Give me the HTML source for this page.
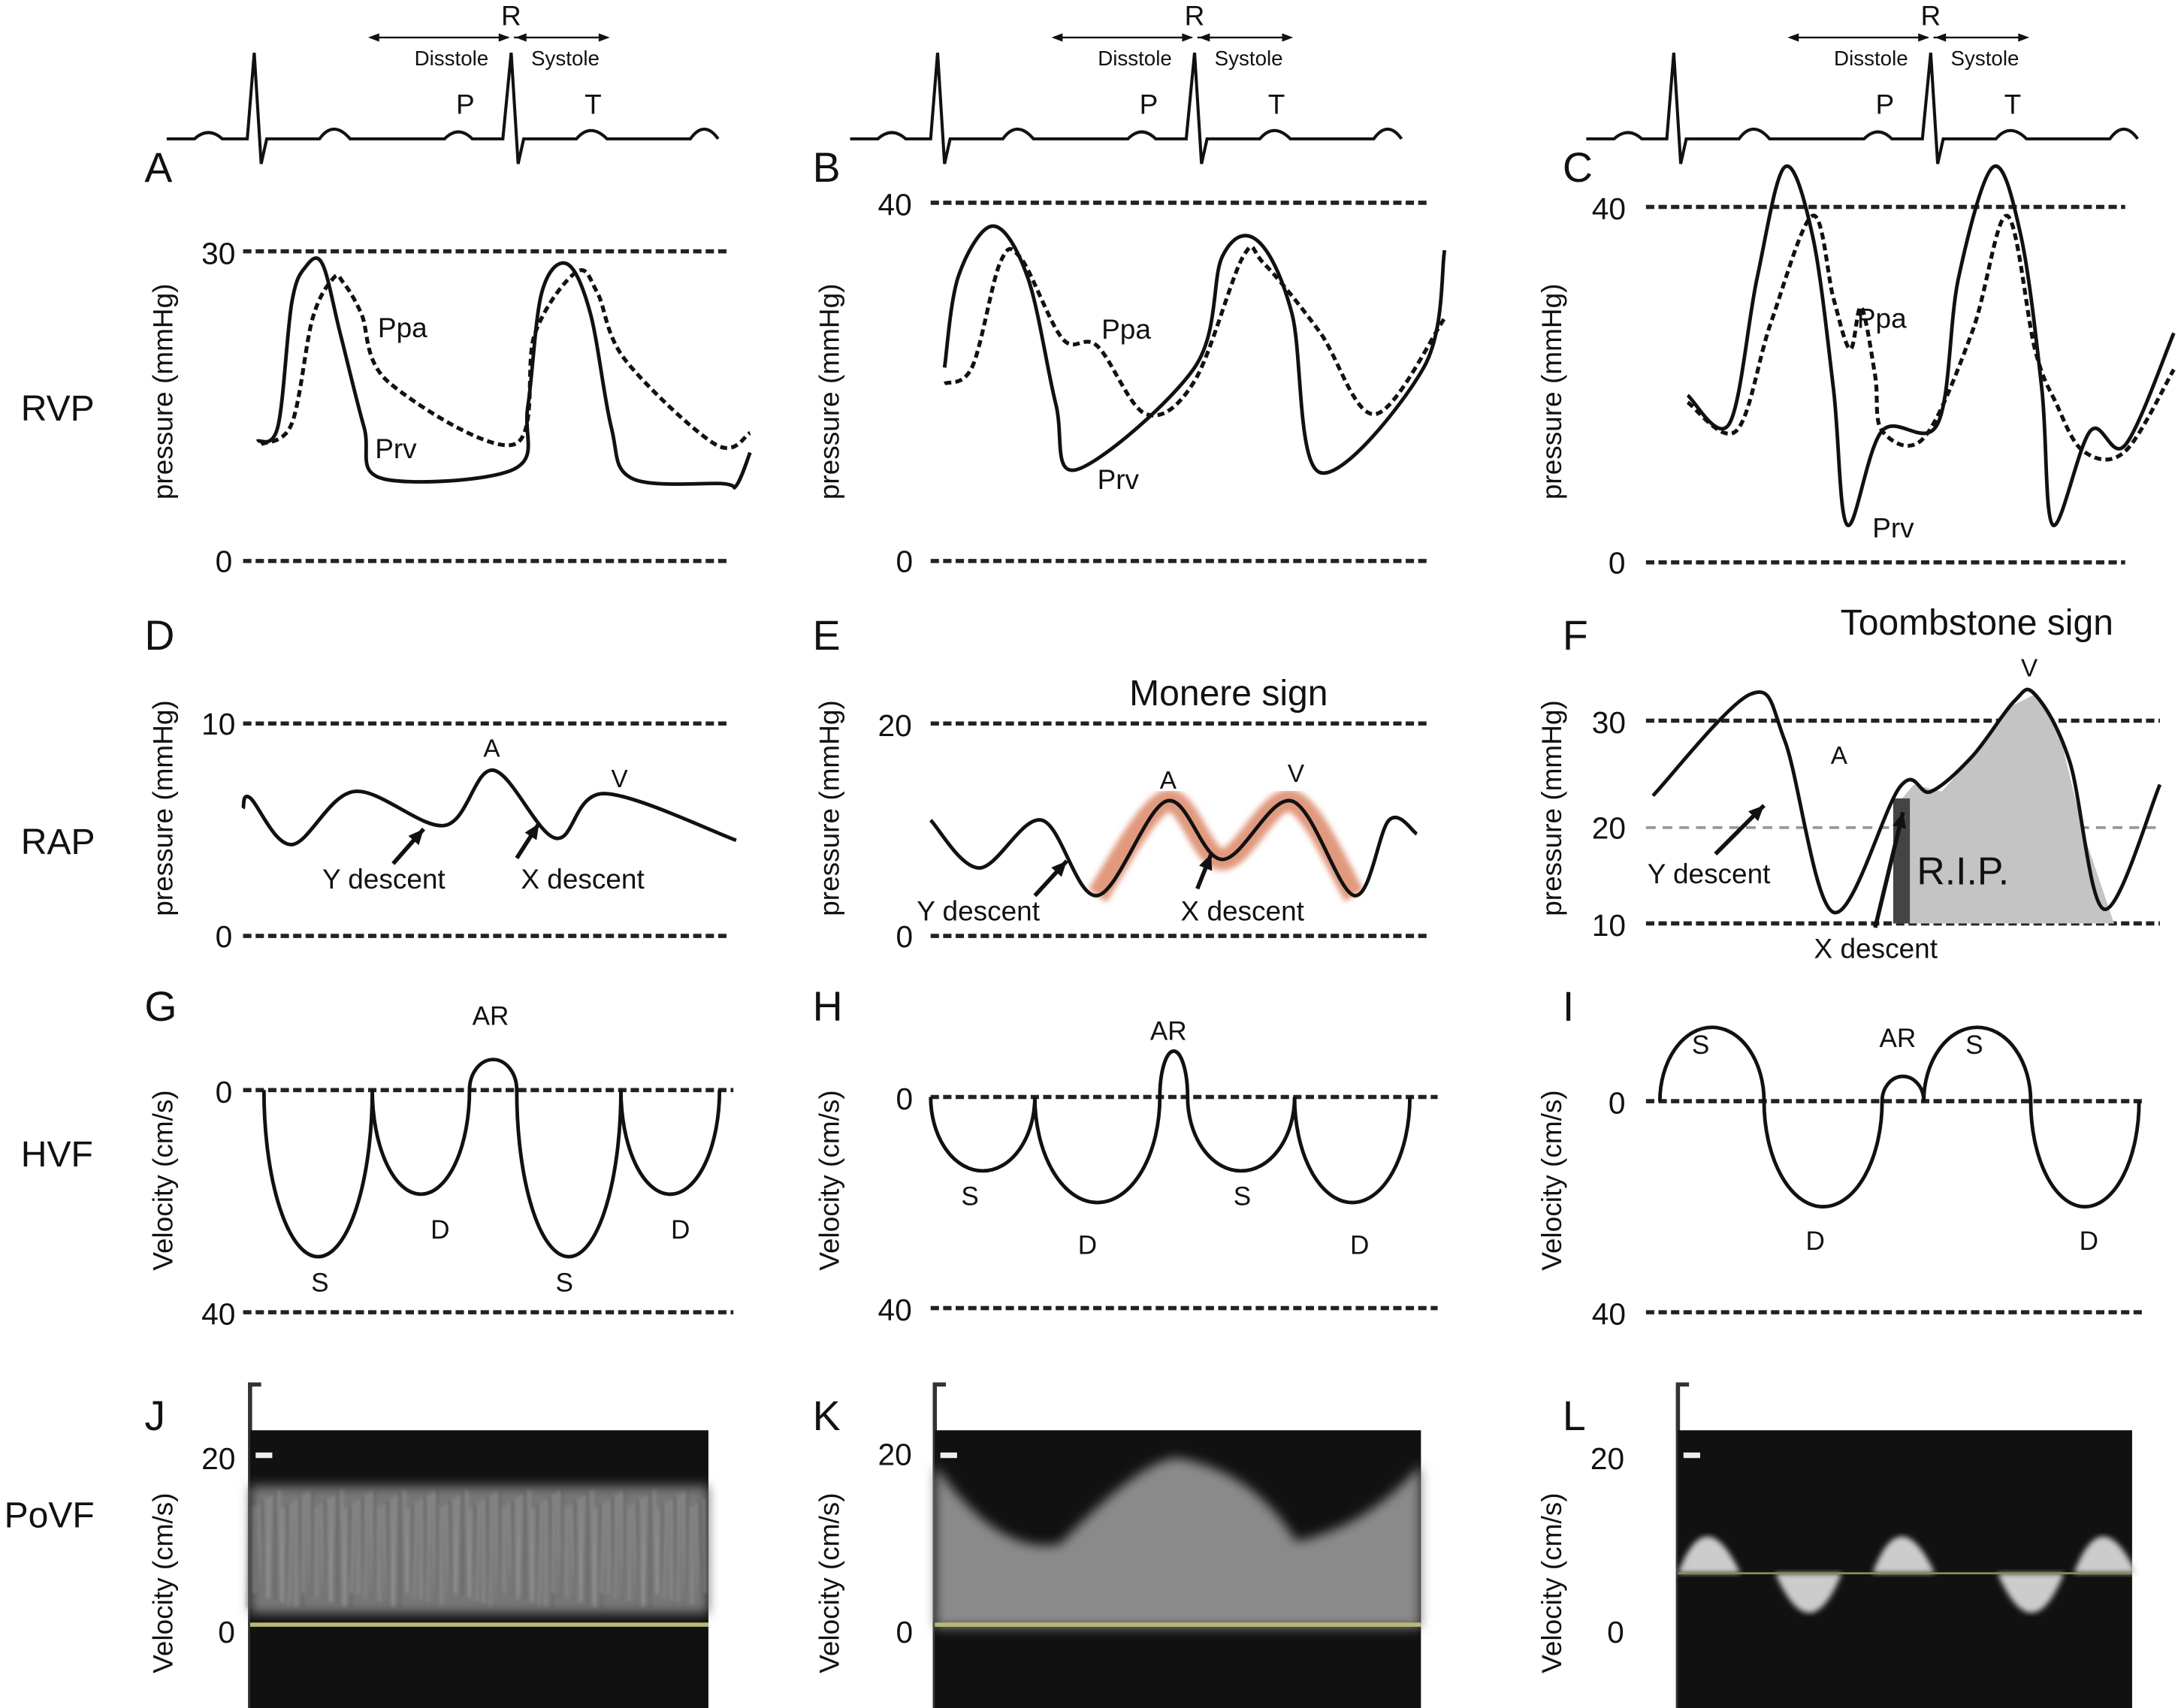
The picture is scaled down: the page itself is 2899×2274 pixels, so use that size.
<!DOCTYPE html>
<html><head><meta charset="utf-8"><style>
html,body{margin:0;padding:0;background:#fff}
svg{display:block}
text{font-family:"Liberation Sans",sans-serif;fill:#111}
</style></head><body>
<svg id="fig" width="2899" height="2274" viewBox="0 0 1568 1230" xmlns="http://www.w3.org/2000/svg">
<defs>
<filter id="blur1"><feGaussianBlur stdDeviation="1.2"/></filter>
<filter id="blur2"><feGaussianBlur stdDeviation="2"/></filter>
<filter id="blur4"><feGaussianBlur stdDeviation="4"/></filter>
</defs>
<g id="root"></g>
</svg>
<script>
// ===== DATA =====
// RVP panels: [time, mmHg]
const prvA=[[10,11.6],[25,13],[35,25],[45,28.5],[57,28.8],[70,22],[87,13],[100,8],[195,8.9],[205,15],[215,26],[233,28.8],[250,24],[265,13],[280,8],[345,7.5],[355,7.3],[365,10.5]];
const ppaA=[[13,11.3],[35,13.3],[50,23.5],[65,27.4],[72,27],[85,24],[105,17.3],[195,11.3],[210,22],[240,28],[255,26],[275,19.5],[340,11.3],[365,12.4]];
const prvB=[[10,21.6],[20,31.8],[45,37.4],[70,31.6],[90,17.6],[105,10.2],[190,21.6],[210,34],[235,35.8],[260,27.7],[280,9.9],[355,21.6],[370,34.7]];
const ppaB=[[10,19.8],[30,21.7],[50,33.3],[65,33.8],[95,24.8],[120,24],[155,16.4],[190,20.1],[225,34],[240,33.2],[280,25.6],[320,16.4],[370,27.1]];
const prvC=[[55,18.8],[85,15.6],[105,32],[125,44.5],[145,36.7],[160,19.5],[170,4.2],[195,14.8],[235,15.6],[250,32],[275,44.5],[295,36.7],[310,19.5],[318,4.2],[345,14.8],[370,13.2],[405,25.8]];
const ppaC=[[55,18],[90,14.8],[115,27],[145,39],[160,29.7],[172,24],[180,28.7],[190,21],[195,14.8],[225,14],[260,26],[285,39],[305,24],[320,18],[340,12.5],[370,12.5],[405,21.7]];
// RAP panels: [time, mmHg]
const rapD=[[0,6],[5,6.5],[35,4.3],[80,6.8],[145,5.2],[180,7.8],[225,4.6],[260,6.7],[355,4.5]];
const rapE=[[0,10.9],[35,6.4],[80,10.9],[120,3.8],[170,12.7],[210,7.2],[260,12.7],[305,3.8],[330,10.9],[350,9.6]];
const rapF=[[0,22.6],[70,32.6],[95,28],[130,11.1],[178,23.5],[200,23],[230,26.5],[260,31.9],[275,32.6],[300,26],[325,11.4],[365,23.7]];
// HVF lobes: [start, end, depth cm/s] (negative = above baseline)
const hvfG=[[15,93,30],[93,163,18.75],[163,197,-5.5],[197,272,30],[272,343,18.75]];
const hvfH=[[0,75,14],[75,165,20],[165,185,-8.7],[185,262,14],[262,345,20]];
const hvfI=[[35,110,-14],[110,195,20],[195,225,-4.7],[225,302,-14],[302,380,20]];

// ===== helpers =====
const NS='http://www.w3.org/2000/svg';
const root=document.getElementById('root');
function mk(tag,attrs,parent){const e=document.createElementNS(NS,tag);for(const k in attrs)e.setAttribute(k,attrs[k]);(parent||root).appendChild(e);return e;}
function txt(x,y,s,size,name,extra){const t=mk('text',Object.assign({x:x,y:y,'font-size':size},extra||{}));t.textContent=s;


return t;}
function smooth(pts){let d='M'+pts[0][0]+','+pts[0][1];for(let i=0;i<pts.length-1;i++){const p0=pts[Math.max(0,i-1)],p1=pts[i],p2=pts[i+1],p3=pts[Math.min(pts.length-1,i+2)];
const c1=[p1[0]+(p2[0]-p0[0])/6,p1[1]+(p2[1]-p0[1])/6],c2=[p2[0]-(p3[0]-p1[0])/6,p2[1]-(p3[1]-p1[1])/6];d+=' C'+c1[0]+','+c1[1]+' '+c2[0]+','+c2[1]+' '+p2[0]+','+p2[1];}return d;}
function axis(x0,v0,y0,v1,y1){return {x:t=>x0+t,y:v=>y0+(v-v0)*(y1-y0)/(v1-v0)};}
function dline(x1,x2,y,name,gray){const l=mk('line',{x1:x1,x2:x2,y1:y,y2:y,stroke:gray?'#999':'#222','stroke-width':gray?2:3,'stroke-dasharray':gray?'7,5':'6,3'});

}
function curve(data,ax,name,dash,w){const p=mk('path',{d:smooth(data.map(d=>[ax.x(d[0]),ax.y(d[1])])),fill:'none',stroke:'#111','stroke-width':w||2.6,'stroke-dasharray':dash||'none'});

return p;}
function lobes(data,ax,name){let d='M'+ax.x(data[0][0])+','+ax.y(0);data.forEach(l=>{const x1=ax.x(l[0]),x2=ax.x(l[1]),h=ax.y(l[2])-ax.y(0);const r=(x2-x1)/2;d+=' A'+r+','+Math.abs(h)+' 0 0 '+(h>0?0:1)+' '+x2+','+ax.y(0);});
const p=mk('path',{d:d,fill:'none',stroke:'#111','stroke-width':2.6});

}
function arrow(x1,y1,x2,y2,name){const g=mk('g',{});
mk('line',{x1:x1,y1:y1,x2:x2,y2:y2,stroke:'#111','stroke-width':3},g);const a=Math.atan2(y2-y1,x2-x1),L=11,W=5;
mk('polygon',{points:[x2,y2,x2-L*Math.cos(a)+W*Math.sin(a),y2-L*Math.sin(a)-W*Math.cos(a),x2-L*Math.cos(a)-W*Math.sin(a),y2-L*Math.sin(a)+W*Math.cos(a)].join(','),fill:'#111'},g);}

// ===== ECG strips =====
[120,612,1142].forEach((o,i)=>{const g=mk('g',{transform:'translate('+(o-120)+',0)'});
const b=100;let d='M120,'+b+' L140,'+b+' Q150,'+(b-9)+' 160,'+b+' L178,'+b+' L183,38 L188,118 L192,'+b+' L230,'+b+' Q240,'+(b-14)+' 252,'+b+' L320,'+b+' Q330,'+(b-10)+' 340,'+b+' L362,'+b+' L368,38 L373,118 L377,'+b+' L415,'+b+' Q425,'+(b-12)+' 437,'+b+' L497,'+b+' Q507,'+(b-14)+' 517,'+b;
mk('path',{d:d,fill:'none',stroke:'#111','stroke-width':2.2},g);
mk('line',{x1:268,x2:366,y1:27,y2:27,stroke:'#111','stroke-width':1.3},g);mk('line',{x1:370,x2:437,y1:27,y2:27,stroke:'#111','stroke-width':1.3},g);
mk('polygon',{points:'265,27 273,24 273,30',fill:'#111'},g);mk('polygon',{points:'367,27 359,24 359,30',fill:'#111'},g);
mk('polygon',{points:'371,27 379,24 379,30',fill:'#111'},g);mk('polygon',{points:'439,27 431,24 431,30',fill:'#111'},g);
[['R',368,18,20],['Disstole',325,47,15],['Systole',407,47,15],['P',335,82,20],['T',427,82,20]].forEach(a=>{const t=mk('text',{x:a[1],y:a[2],'font-size':a[3],'text-anchor':'middle'},g);t.textContent=a[0];});
});

// ===== panel letters / row labels =====
[['A',104,131],['B',585,131],['C',1125,131],['D',104,468],['E',585,468],['F',1125,468],['G',104,735],['H',585,735],['I',1125,735],['J',104,1030],['K',585,1030],['L',1125,1030]].forEach(a=>txt(a[1],a[2],a[0],30,'panel-label-'+a[0].toLowerCase()));
[['RVP',15,303],['RAP',15,615],['HVF',15,840],['PoVF',3,1100]].forEach(a=>txt(a[1],a[2],a[0],26,'row-label-'+a[0].toLowerCase()));
function ytitle(x,y,s,name){txt(0,0,s,20,name,{transform:'translate('+x+','+y+') rotate(-90)','text-anchor':'middle'});}
[117,597,1117].forEach((o,i)=>{ytitle(o+7,282,'pressure (mmHg)','rvp-y-title-'+(i+1));ytitle(o+7,582,'pressure (mmHg)','rap-y-title-'+(i+1));ytitle(o+7,850,'Velocity (cm/s)','hvf-y-title-'+(i+1));ytitle(o+7,1140,'Velocity (cm/s)','povf-y-title-'+(i+1));});

// ===== RVP =====
const axA=axis(175,30,181,0,404), axB=axis(670,40,146,0,404), axC=axis(1160,40,149,0,405);
dline(175,525,181,'rvp-a-line-30');dline(175,525,404,'rvp-a-line-0');txt(145,190,'30',22,'tick-a-30');txt(155,412,'0',22,'tick-a-0');
curve(prvA,axA,'prv-curve-a');curve(ppaA,axA,'ppa-curve-a','5,3',2.8);txt(272,243,'Ppa',20,'ppa-label-a');txt(270,330,'Prv',20,'prv-label-a');
dline(670,1030,146,'rvp-b-line-40');dline(670,1030,404,'rvp-b-line-0');txt(632,155,'40',22,'tick-b-40');txt(645,412,'0',22,'tick-b-0');
curve(prvB,axB,'prv-curve-b');curve(ppaB,axB,'ppa-curve-b','5,3',2.8);txt(793,244,'Ppa',20,'ppa-label-b');txt(790,352,'Prv',20,'prv-label-b');
dline(1185,1530,149,'rvp-c-line-40');dline(1185,1530,405,'rvp-c-line-0');txt(1146,158,'40',22,'tick-c-40');txt(1158,413,'0',22,'tick-c-0');
curve(prvC,axC,'prv-curve-c');curve(ppaC,axC,'ppa-curve-c','5,3',2.8);txt(1337,236,'Ppa',20,'ppa-label-c');txt(1348,387,'Prv',20,'prv-label-c');

// ===== RAP =====
const axD=axis(175,10,521,0,674), axE=axis(670,20,521,0,674), axF=axis(1190,30,519,10,665);
dline(175,525,521,'rap-d-line-10');dline(175,525,674,'rap-d-line-0');txt(145,529,'10',22,'tick-d-10');txt(155,682,'0',22,'tick-d-0');
curve(rapD,axD,'rap-curve-d');txt(348,545,'A',18,'a-wave-d');txt(440,567,'V',18,'v-wave-d');
arrow(283,622,305,597,'y-descent-arrow-d');arrow(372,618,388,593,'x-descent-arrow-d');txt(232,640,'Y descent',20,'y-descent-d');txt(375,640,'X descent',20,'x-descent-d');
dline(670,1030,521,'rap-e-line-20');dline(670,1030,674,'rap-e-line-0');txt(632,530,'20',22,'tick-e-20');txt(645,682,'0',22,'tick-e-0');
const hl=rapE.filter(d=>d[0]>=120&&d[0]<=305);const hp=curve(hl,axE,'monere-highlight');hp.setAttribute('stroke','#d9805e');hp.setAttribute('stroke-width','16');hp.setAttribute('stroke-opacity','0.8');hp.setAttribute('filter','url(#blur2)');
curve(rapE,axE,'rap-curve-e');txt(813,508,'Monere sign',26,'monere-sign-title');txt(835,568,'A',18,'a-wave-e');txt(927,563,'V',18,'v-wave-e');
arrow(745,645,768,620,'y-descent-arrow-e');arrow(862,640,872,615,'x-descent-arrow-e');txt(660,663,'Y descent',20,'y-descent-e');txt(850,663,'X descent',20,'x-descent-e');
dline(1185,1555,519,'rap-f-line-30');dline(1185,1555,596,'rap-f-line-20',true);dline(1185,1555,665,'rap-f-line-10');
txt(1146,528,'30',22,'tick-f-30');txt(1146,604,'20',22,'tick-f-20');txt(1146,674,'10',22,'tick-f-10');
const ts=mk('path',{d:'M1363,665 L1365,580 L1378,565 L1398,570 L1420,545 L1445,510 L1465,500 L1482,525 L1500,600 L1522,665 Z',fill:'#c4c4c4',stroke:'none'});
mk('rect',{x:1363,y:575,width:12,height:90,fill:'#444'});
curve(rapF,axF,'rap-curve-f');txt(1325,457,'Toombstone sign',26,'toombstone-sign-title');txt(1455,487,'V',18,'v-wave-f');txt(1318,550,'A',18,'a-wave-f');
txt(1380,637,'R.I.P.',28,'rip-text');arrow(1235,615,1270,580,'y-descent-arrow-f');arrow(1350,668,1370,585,'x-descent-arrow-f');
txt(1186,636,'Y descent',20,'y-descent-f');txt(1306,690,'X descent',20,'x-descent-f');

// ===== HVF =====
const axG=axis(175,0,785,40,945), axH=axis(670,0,790,40,942), axI=axis(1160,0,793,40,945);
dline(175,528,785,'hvf-g-line-0');dline(175,528,945,'hvf-g-line-40');txt(155,794,'0',22,'tick-g-0');txt(145,954,'40',22,'tick-g-40');
lobes(hvfG,axG,'hvf-curve-g');[['S',224,930],['D',310,892],['AR',340,738],['S',400,930],['D',483,892]].forEach((a,i)=>txt(a[1],a[2],a[0],19,'hvf-g-wave-'+i));
dline(670,1035,790,'hvf-h-line-0');dline(670,1035,942,'hvf-h-line-40');txt(645,799,'0',22,'tick-h-0');txt(632,951,'40',22,'tick-h-40');
lobes(hvfH,axH,'hvf-curve-h');[['S',692,868],['D',776,903],['AR',828,749],['S',888,868],['D',972,903]].forEach((a,i)=>txt(a[1],a[2],a[0],19,'hvf-h-wave-'+i));
dline(1185,1545,793,'hvf-i-line-0');dline(1185,1545,945,'hvf-i-line-40');txt(1158,802,'0',22,'tick-i-0');txt(1146,954,'40',22,'tick-i-40');
lobes(hvfI,axI,'hvf-curve-i');[['S',1218,759],['D',1300,900],['AR',1353,754],['S',1415,759],['D',1497,900]].forEach((a,i)=>txt(a[1],a[2],a[0],19,'hvf-i-wave-'+i));

// ===== PoVF =====
function povf(x0,w,i,kind){const g=mk('g',{});
mk('path',{d:'M'+(x0+8)+',997 L'+x0+',997 L'+x0+',1230',fill:'none',stroke:'#333','stroke-width':3},g);
mk('rect',{x:x0,y:1030,width:w,height:200,fill:'#111'},g);
mk('rect',{x:x0+4,y:1046,width:12,height:4,fill:'#eee'},g);
if(kind==0){mk('rect',{x:x0,y:1070,width:w,height:92,fill:'#777',filter:'url(#blur4)'},g);
const tg=mk('g',{filter:'url(#blur1)'},g);
for(let k=0;k<110;k++){mk('line',{x1:x0+k*3,x2:x0+k*3+((k*7)%5)-2,y1:1072+(k*13)%15,y2:1158-(k*11)%12,stroke:(k%3?'#aaa':'#555'),'stroke-width':1.3,opacity:.55},tg);}}
if(kind==1){mk('path',{d:'M'+x0+',1055 Q'+(x0+45)+',1120 '+(x0+90)+',1112 Q'+(x0+150)+',1050 '+(x0+175)+',1050 Q'+(x0+230)+',1060 '+(x0+260)+',1110 Q'+(x0+310)+',1100 '+(x0+w)+',1055 L'+(x0+w)+',1172 L'+x0+',1172 Z',fill:'#8a8a8a',filter:'url(#blur4)'},g);}
if(kind==2){[[0,1095,1133,1],[140,1095,1133,1],[285,1095,1133,1],[70,1133,1175,0],[230,1133,1175,0]].forEach(s=>{
mk('path',{d:s[3]?'M'+(x0+s[0])+','+s[2]+' Q'+(x0+s[0]+20)+','+(s[1]-15)+' '+(x0+s[0]+45)+','+s[2]+' Z':'M'+(x0+s[0])+','+s[1]+' Q'+(x0+s[0]+25)+','+(s[2]+15)+' '+(x0+s[0]+48)+','+s[1]+' Z',fill:'#ccc',filter:'url(#blur2)'},g);});
mk('line',{x1:x0,x2:x0+w,y1:1133,y2:1133,stroke:'#8a8a55','stroke-width':1.5},g);}
else mk('line',{x1:x0,x2:x0+w,y1:1170,y2:1170,stroke:'#b8b878','stroke-width':3},g);
}
povf(180,330,1,0);povf(673,350,2,1);povf(1208,327,3,2);
[[145,1058,'20'],[157,1183,'0'],[632,1055,'20'],[645,1183,'0'],[1145,1058,'20'],[1157,1183,'0']].forEach((a,i)=>txt(a[0],a[1],a[2],22,'povf-tick-'+i));
</script>
</body></html>
